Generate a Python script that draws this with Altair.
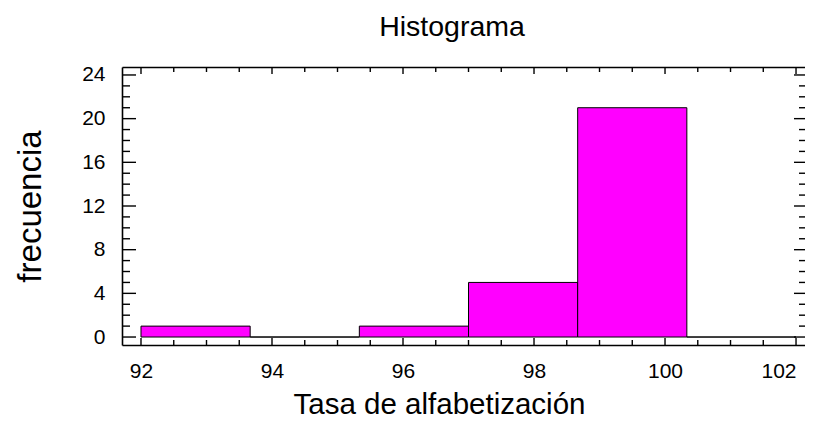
import altair as alt
import pandas as pd

# ---- data ----
bin_start = [92.0, 93.6667, 95.3333, 97.0, 98.6667, 100.3333]
bin_end = [93.6667, 95.3333, 97.0, 98.6667, 100.3333, 102.0]
counts = [1, 0, 1, 5, 21, 0]

x_major = [92, 94, 96, 98, 100, 102]
x_minor = [92.5, 93, 93.5, 94.5, 95, 95.5, 96.5, 97, 97.5, 98.5, 99, 99.5,
           100.5, 101, 101.5]
y_major = [0, 4, 8, 12, 16, 20, 24]
y_minor = [1, 2, 3, 5, 6, 7, 9, 10, 11, 13, 14, 15, 17, 18, 19, 21, 22, 23]

W, H = 683, 278
FONT = "Liberation Sans"

xscale = alt.Scale(domain=[91.71, 102.137], nice=False, zero=False)
yscale = alt.Scale(domain=[-0.73, 24.73], nice=False, zero=False)

bars_df = pd.DataFrame({"start": bin_start, "end": bin_end, "count": counts})

bars = alt.Chart(bars_df).mark_rect(
    fill="#FF00FF", stroke="black", strokeWidth=1
).encode(
    x=alt.X(
        "start:Q", scale=xscale,
        axis=alt.Axis(
            orient="bottom", values=x_major, format="d",
            title="Tasa de alfabetización",
            ticks=False, tickSize=0, grid=False,
            domain=True, domainColor="black", domainWidth=1.6,
            labelFont=FONT, labelFontSize=21, labelColor="black",
            labelPadding=32, labelBaseline="alphabetic",
            labelFlush=12, labelOverlap=False, labelBound=False,
            titleFont=FONT, titleFontSize=29.5, titleFontWeight="normal",
            titleColor="black", titleX=317, titleY=68,
            titleBaseline="alphabetic", titleAlign="center",
        ),
    ),
    x2="end:Q",
    y=alt.Y(
        "count:Q", scale=yscale,
        axis=alt.Axis(
            orient="left", values=y_major, format="d",
            title="frecuencia",
            ticks=False, tickSize=0, grid=False,
            domain=True, domainColor="black", domainWidth=1.6,
            labelFont=FONT, labelFontSize=21, labelColor="black",
            labelPadding=17, labelBaseline="middle", labelAlign="right",
            labelFlush=False, labelOverlap=False, labelBound=False,
            titleFont=FONT, titleFontSize=33, titleFontWeight="normal",
            titleColor="black", titleAngle=270, titleX=-82, titleY=139,
            titleBaseline="alphabetic", titleAlign="center",
        ),
    ),
    y2=alt.datum(0),
)


def xticks(values, y0, y1, top_axis=False):
    df = pd.DataFrame({"v": values})
    if top_axis:
        ax = alt.Axis(orient="top", labels=False, ticks=False, tickSize=0,
                      grid=False, domain=True, domainColor="black",
                      domainWidth=1.6, title=None)
    else:
        ax = None
    return alt.Chart(df).mark_rule(color="black", strokeWidth=1.4).encode(
        x=alt.X("v:Q", scale=xscale, axis=ax),
        y=alt.value(y0), y2=alt.value(y1),
    )


def yticks(values, x0, x1):
    df = pd.DataFrame({"v": values})
    return alt.Chart(df).mark_rule(color="black", strokeWidth=1.4).encode(
        y=alt.Y("v:Q", scale=yscale, axis=None),
        x=alt.value(x0), x2=alt.value(x1),
    )


layers = [
    bars,
    xticks(x_major, 0, 7, top_axis=True),
    xticks(x_minor, 0, 5),
    xticks(x_major, H, H - 7),
    xticks(x_minor, H, H - 5),
    yticks(y_major, 0, 14),
    yticks(y_minor, 0, 8),
    yticks(y_major, W, W - 11),
    yticks(y_minor, W, W - 6),
]

chart = alt.layer(*layers).resolve_axis(
    x="independent", y="independent"
).properties(
    width=W, height=H,
    autosize=alt.AutoSizeParams(type="none"),
    padding={"left": 114, "top": 59, "right": 0, "bottom": 74},
    background="white",
    title=alt.TitleParams(
        "Histograma", font=FONT, fontSize=28.5, fontWeight="normal",
        color="black", anchor="middle", frame="group",
        baseline="alphabetic", offset=3, dx=-11.5, dy=4,
    ),
).configure_view(stroke=None)

chart.save("out.html", embed_options={"renderer": "svg", "actions": False})
